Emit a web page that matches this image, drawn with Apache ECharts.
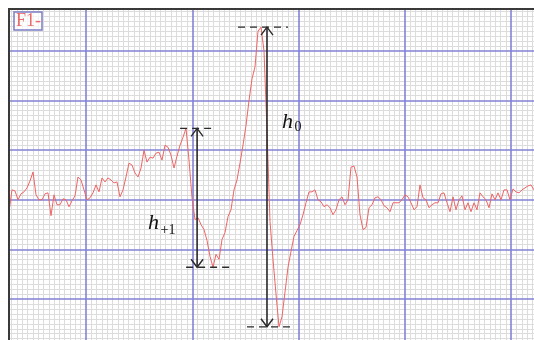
<!DOCTYPE html>
<html><head><meta charset="utf-8">
<script src="https://cdn.jsdelivr.net/npm/echarts@6/dist/echarts.min.js"></script>
<style>html,body{margin:0;padding:0;background:#fff}#c{width:534px;height:340px}</style>
</head><body><div id="c"></div>
<script>
// ---- data ----
const leadLabel = 'F1-';
// trace amplitude, one sample per step, left to right (grid units: 50 per major division)
const traceValues = [
 -12, 10, 9, 0, 6, 8, 12, 19, 28, 5, 0, 0, 6, 7, -16, 5, -5, -5, 1, 0,
 -7, -1, 4, 23, 20, 10, 0, 2, 7, 15, 8, 22, 18, 22, 20, 17, 18, 3, 10, 23,
 37, 35, 27, 23, 32, 50, 38, 43, 42, 47, 48, 40, 55, 53, 45, 32, 44, 55, 63, 72,
 40, 2, -20, -18, -25, -30, -41, -57, -68, -55, -60, -40, -33, -17, -10, 10, 20, 37, 55, 75,
 100, 122, 134, 170, 174, 150, 70, -22, -60, -95, -128, -118, -93, -68, -52, -37, -31, -25, -15, -3,
 8, 8, 10, 0, -2, -7, -5, -8, -15, -10, 0, 3, -5, 0, 33, 34, 23, -15, -30, -28,
 -8, -5, 2, 3, 0, -6, -8, -12, -3, -3, -3, 0, 5, 3, -3, -10, -7, 15, 2, 0,
 -8, -5, -3, -3, 6, 7, -3, -12, 3, -10, 0, 4, -10, -3, -12, -3, -10, 7, 3, 0,
 -8, 6, 0, 7, 0, 10, 10, 0, 11, 8, 7, 10, 12, 14, 15, 10
];
const labelH0 = ['h', '0'];
const labelH1 = ['h', '+1'];
const h0SampleIndex = 86;      // where the h0 arrow stands
const h1SampleIndex = 62.7;    // where the h+1 arrow stands
const h1SearchRange = [50, 75];// samples holding the h+1 extremes

// ---- layout ----
const MAJOR_X = 106.3, MAJOR_Y = 49.6;
const gridLeft = 86 - MAJOR_X, gridTop = 51 - MAJOR_Y;
const gridW = MAJOR_X * 6, gridH = MAJOR_Y * 7;
const traceStart = 9, traceEnd = 534;
const n = traceValues.length;
const pps = (traceEnd - traceStart) / (n - 1);
const sMin = -(traceStart - gridLeft) / pps;
const sMax = sMin + gridW / pps;

const chart = echarts.init(document.getElementById('c'), null, {renderer: 'canvas'});
const hidden = {show: false};
const MAJOR = {show: true, lineStyle: {color: '#8282d6', width: 1.6}};
const MINOR = {show: true, lineStyle: {color: '#dcdcdc', width: 1}};
const xBase = {type: 'value', min: 0, max: 600, interval: 100, axisLine: hidden, axisTick: hidden, axisLabel: hidden};
const yBase = {type: 'value', min: -150, max: 200, interval: 50, axisLine: hidden, axisTick: hidden, axisLabel: hidden};
chart.setOption({
  animation: false,
  backgroundColor: '#fff',
  title: {
    text: leadLabel, left: 14, top: 12, padding: [0, 1, 0, 2],
    borderColor: '#7c7cc8', borderWidth: 1.5, backgroundColor: 'rgba(255,255,255,0.7)',
    textStyle: {fontFamily: 'Liberation Serif', fontSize: 18, fontWeight: 'normal', color: '#ea6a6a', lineHeight: 18}
  },
  grid: {left: gridLeft, top: gridTop, width: gridW, height: gridH, containLabel: false, outerBoundsMode: 'none'},
  xAxis: [
    Object.assign({}, xBase, {z: 0, splitLine: hidden, minorTick: {show: false, splitNumber: 20}, minorSplitLine: MINOR}),
    {type: 'value', min: sMin, max: sMax, show: false, splitLine: hidden},
    Object.assign({}, xBase, {z: 1, splitLine: MAJOR})
  ],
  yAxis: [
    Object.assign({}, yBase, {z: 0, splitLine: hidden, minorTick: {show: false, splitNumber: 10}, minorSplitLine: MINOR}),
    Object.assign({}, yBase, {z: 1, splitLine: MAJOR})
  ],
  series: [{
    type: 'line', xAxisIndex: 1, yAxisIndex: 0,
    data: traceValues.map((v, i) => [i, v]),
    showSymbol: false, symbol: 'none', z: 5,
    lineStyle: {color: '#f06464', width: 1}
  }]
});

// ---- annotations derived from the data ----
function px(i, v) { return chart.convertToPixel({xAxisIndex: 1, yAxisIndex: 0}, [i, v]); }
const h0Top = Math.max(...traceValues), h0Bot = Math.min(...traceValues);
const seg = traceValues.slice(h1SearchRange[0], h1SearchRange[1]);
const h1Top = Math.max(...seg), h1Bot = Math.min(...seg);
const INK = '#2a2a2a';
const g = [];
g.push({type: 'rect', shape: {x: 0, y: 0, width: 534, height: 8}, style: {fill: '#fff'}, z: 90});
g.push({type: 'rect', shape: {x: 0, y: 0, width: 8, height: 340}, style: {fill: '#fff'}, z: 90});
g.push({type: 'line', shape: {x1: 8, y1: 9, x2: 534, y2: 9}, style: {stroke: '#3a3a3a', lineWidth: 2}, z: 91});
g.push({type: 'line', shape: {x1: 9, y1: 8, x2: 9, y2: 340}, style: {stroke: '#3a3a3a', lineWidth: 2}, z: 91});

function arrow(idx, top, bot, dTop, dBot) {
  const a = px(idx, top), b = px(idx, bot);
  const x = a[0];
  g.push({type: 'line', shape: {x1: x, y1: a[1], x2: x, y2: b[1]}, style: {stroke: INK, lineWidth: 1.6}, z: 100});
  g.push({type: 'polyline', shape: {points: [[x - 6, a[1] + 8], [x, a[1]], [x + 6, a[1] + 8]]}, style: {stroke: INK, lineWidth: 1.4, fill: null}, z: 100});
  g.push({type: 'polyline', shape: {points: [[x - 6, b[1] - 8], [x, b[1]], [x + 6, b[1] - 8]]}, style: {stroke: INK, lineWidth: 1.4, fill: null}, z: 100});
  g.push({type: 'line', shape: {x1: x + dTop[0], y1: a[1], x2: x + dTop[1], y2: a[1]}, style: {stroke: INK, lineWidth: 1.3, lineDash: [7, 5]}, z: 100});
  g.push({type: 'line', shape: {x1: x + dBot[0], y1: b[1], x2: x + dBot[1], y2: b[1]}, style: {stroke: INK, lineWidth: 1.3, lineDash: [7, 5]}, z: 100});
  return [x, a[1], b[1]];
}
const A0 = arrow(h0SampleIndex, h0Top, h0Bot, [-29, 21], [-20, 28]);
const A1 = arrow(h1SampleIndex, h1Top, h1Bot, [-17, 17], [-11, 32]);

function label(x, yBase, parts, subDy) {
  g.push({type: 'text', x: x, y: yBase, z: 100,
    style: {text: parts[0], fill: '#111', font: 'italic 22px "Liberation Serif", serif', textVerticalAlign: 'bottom', textAlign: 'left'}});
  g.push({type: 'text', x: x + 12.5, y: yBase + subDy, z: 100,
    style: {text: parts[1], fill: '#111', font: '14px "Liberation Serif", serif', textVerticalAlign: 'bottom', textAlign: 'left'}});
}
label(A0[0] + 15, A0[1] + 106, labelH0, 1);
label(A1[0] - 49, A1[1] + 106, labelH1, 3);

chart.setOption({graphic: g});
</script>
</body></html>
